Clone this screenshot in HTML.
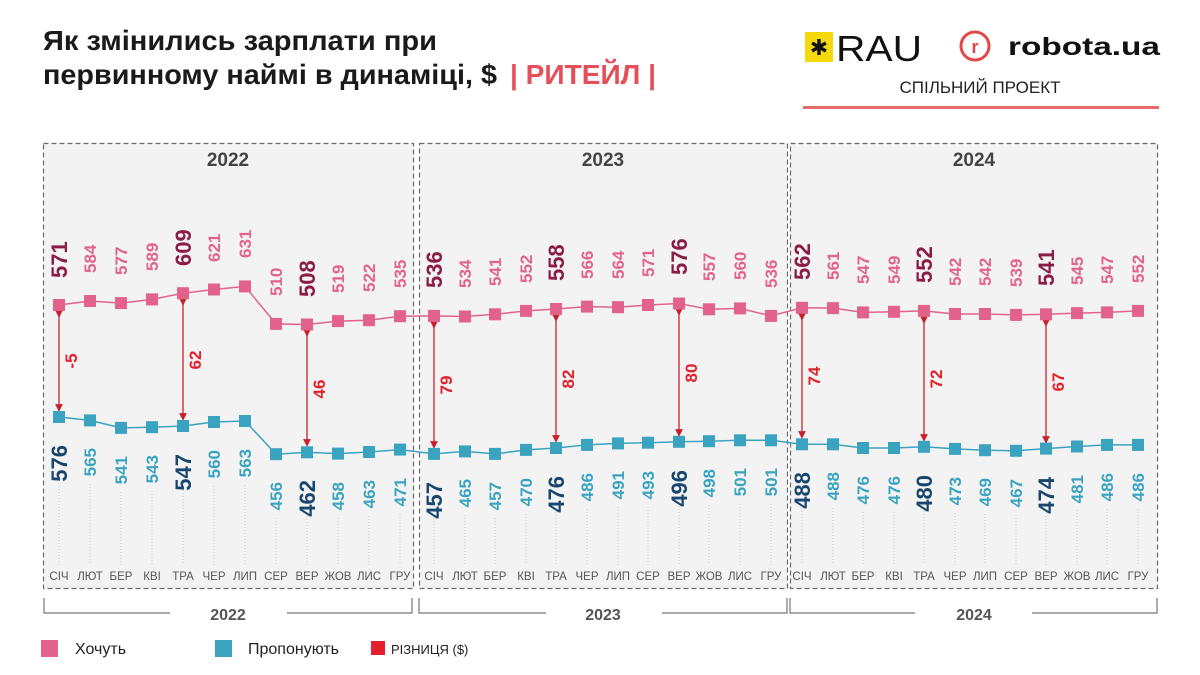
<!DOCTYPE html>
<html><head><meta charset="utf-8"><style>
body{margin:0;background:#fff;}
svg{display:block;font-family:"Liberation Sans",sans-serif;}
.w{fill:#e2628c;font-size:17px;font-weight:bold}
.wb{fill:#8a1c45;font-size:22px;font-weight:bold}
.o{fill:#3aa3c0;font-size:17px;font-weight:bold}
.ob{fill:#18466e;font-size:22px;font-weight:bold}
.m{fill:#555;font-size:11.5px;text-anchor:middle}
.d{fill:#e3202c;font-size:17px;font-weight:bold;text-anchor:middle}
.dl{stroke:#c8c8c8;stroke-width:1;stroke-dasharray:1 2}
</style></head><body>
<svg width="1200" height="675" viewBox="0 0 1200 675">
<defs>
<rect id="pw" x="-6" y="-6" width="12" height="12" fill="#e2628c"/>
<rect id="po" x="-6" y="-6" width="12" height="12" fill="#3aa3c0"/>
<marker id="ar" markerWidth="6" markerHeight="6" refX="3" refY="3" orient="auto"><path d="M0,0 L6,3 L0,6 z" fill="#c8202c"/></marker>
</defs>
<!-- header -->
<text x="43" y="50" font-size="28" font-weight="bold" fill="#1a1a1a" textLength="394" lengthAdjust="spacingAndGlyphs">Як змінились зарплати при</text>
<text x="43" y="84" font-size="28" font-weight="bold" fill="#1a1a1a" textLength="454" lengthAdjust="spacingAndGlyphs">первинному наймі в динаміці, $</text>
<text x="510" y="84" font-size="28" font-weight="bold" fill="#e3505a" textLength="146" lengthAdjust="spacingAndGlyphs">| РИТЕЙЛ |</text>
<rect x="805" y="32" width="28" height="30" fill="#f5d90a"/>
<text x="819" y="55" font-size="22" text-anchor="middle" fill="#111">✱</text>
<text x="836" y="61" font-size="36" fill="#111" textLength="86" lengthAdjust="spacingAndGlyphs">RAU</text>
<circle cx="975" cy="46" r="14" fill="none" stroke="#e24848" stroke-width="3"/>
<text x="975" y="53" font-size="18" font-weight="bold" text-anchor="middle" fill="#e24848">r</text>
<text x="1008" y="55" font-size="25" font-weight="bold" fill="#111" textLength="152" lengthAdjust="spacingAndGlyphs">robota.ua</text>
<text x="980" y="93" font-size="17" text-anchor="middle" fill="#222">СПІЛЬНИЙ ПРОЕКТ</text>
<rect x="803" y="106" width="356" height="3" fill="#e86a6a"/>
<!-- panels -->
<g fill="#f3f3f3" stroke="#6a6a6a" stroke-dasharray="5 3" stroke-width="1.2">
<rect x="43.5" y="143.5" width="370" height="445"/>
<rect x="419.5" y="143.5" width="368" height="445"/>
<rect x="790.5" y="143.5" width="367" height="445"/>
</g>
<g font-size="19" font-weight="bold" fill="#444" text-anchor="middle">
<text x="228" y="166">2022</text><text x="603" y="166">2023</text><text x="974" y="166">2024</text>
</g>
<!-- month labels -->
<g class="m">
<text x="59" y="580">СІЧ</text><text x="90" y="580">ЛЮТ</text><text x="121" y="580">БЕР</text><text x="152" y="580">КВІ</text><text x="183" y="580">ТРА</text><text x="214" y="580">ЧЕР</text><text x="245" y="580">ЛИП</text><text x="276" y="580">СЕР</text><text x="307" y="580">ВЕР</text><text x="338" y="580">ЖОВ</text><text x="369" y="580">ЛИС</text><text x="400" y="580">ГРУ</text>
<text x="434" y="580">СІЧ</text><text x="465" y="580">ЛЮТ</text><text x="495" y="580">БЕР</text><text x="526" y="580">КВІ</text><text x="556" y="580">ТРА</text><text x="587" y="580">ЧЕР</text><text x="618" y="580">ЛИП</text><text x="648" y="580">СЕР</text><text x="679" y="580">ВЕР</text><text x="709" y="580">ЖОВ</text><text x="740" y="580">ЛИС</text><text x="771" y="580">ГРУ</text>
<text x="802" y="580">СІЧ</text><text x="833" y="580">ЛЮТ</text><text x="863" y="580">БЕР</text><text x="894" y="580">КВІ</text><text x="924" y="580">ТРА</text><text x="955" y="580">ЧЕР</text><text x="985" y="580">ЛИП</text><text x="1016" y="580">СЕР</text><text x="1046" y="580">ВЕР</text><text x="1077" y="580">ЖОВ</text><text x="1107" y="580">ЛИС</text><text x="1138" y="580">ГРУ</text>
</g>
<!-- dotted guides -->
<g class="dl">
<path d="M59,480V565M90,484V565M121,492V565M152,491V565M183,490V565M214,486V565M245,485V565M276,518V565M307,516V565M338,518V565M369,516V565M400,514V565M434,518V565M465,515V565M495,518V565M526,514V565M556,512V565M587,509V565M618,507V565M648,507V565M679,506V565M709,505V565M740,504V565M771,504V565M802,508V565M833,508V565M863,512V565M894,512V565M924,511V565M955,513V565M985,514V565M1016,515V565M1046,513V565M1077,510V565M1107,509V565M1138,509V565"/>
</g>
<!-- lines -->
<polyline fill="none" stroke="#e2628c" stroke-width="1.5" points="59,305 90,301 121,303.1 152,299.4 183,293.2 214,289.5 245,286.4 276,323.9 307,324.5 338,321.1 369,320.2 400,316.2 434,315.9 465,316.5 495,314.3 526,310.9 556,309 587,306.6 618,307.2 648,305 679,303.5 709,309.3 740,308.4 771,315.9 802,307.8 833,308.1 863,312.4 894,311.8 924,310.9 955,314 985,314 1016,314.9 1046,314.3 1077,313.1 1107,312.4 1138,310.9"/>
<polyline fill="none" stroke="#3aa3c0" stroke-width="1.5" points="59,417 90,420.4 121,427.9 152,427.2 183,426 214,422 245,421 276,454.2 307,452.3 338,453.6 369,452 400,449.6 434,453.9 465,451.4 495,453.9 526,449.9 556,448 587,444.9 618,443.4 648,442.7 679,441.8 709,441.2 740,440.3 771,440.3 802,444.3 833,444.3 863,448 894,448 924,446.8 955,448.9 985,450.2 1016,450.8 1046,448.6 1077,446.5 1107,444.9 1138,444.9"/>
<!-- diff arrows -->
<g stroke="#c8202c" stroke-width="1.3" marker-start="url(#ar)" marker-end="url(#ar)">
<line x1="59" y1="314" x2="59" y2="408"/><line x1="183" y1="302" x2="183" y2="417"/><line x1="307" y1="333" x2="307" y2="443"/>
<line x1="434" y1="325" x2="434" y2="445"/><line x1="556" y1="318" x2="556" y2="439"/><line x1="679" y1="312" x2="679" y2="433"/>
<line x1="802" y1="317" x2="802" y2="435"/><line x1="924" y1="320" x2="924" y2="438"/><line x1="1046" y1="323" x2="1046" y2="440"/>
</g>
<g class="d">
<text transform="translate(77,361) rotate(-90)">-5</text>
<text transform="translate(201,360) rotate(-90)">62</text>
<text transform="translate(325,389) rotate(-90)">46</text>
<text transform="translate(452,385) rotate(-90)">79</text>
<text transform="translate(574,379) rotate(-90)">82</text>
<text transform="translate(697,373) rotate(-90)">80</text>
<text transform="translate(820,376) rotate(-90)">74</text>
<text transform="translate(942,379) rotate(-90)">72</text>
<text transform="translate(1064,382) rotate(-90)">67</text>
</g>
<!-- markers -->
<g>
<use href="#pw" x="59" y="305"/><use href="#pw" x="90" y="301"/><use href="#pw" x="121" y="303.1"/><use href="#pw" x="152" y="299.4"/><use href="#pw" x="183" y="293.2"/><use href="#pw" x="214" y="289.5"/><use href="#pw" x="245" y="286.4"/><use href="#pw" x="276" y="323.9"/><use href="#pw" x="307" y="324.5"/><use href="#pw" x="338" y="321.1"/><use href="#pw" x="369" y="320.2"/><use href="#pw" x="400" y="316.2"/>
<use href="#pw" x="434" y="315.9"/><use href="#pw" x="465" y="316.5"/><use href="#pw" x="495" y="314.3"/><use href="#pw" x="526" y="310.9"/><use href="#pw" x="556" y="309"/><use href="#pw" x="587" y="306.6"/><use href="#pw" x="618" y="307.2"/><use href="#pw" x="648" y="305"/><use href="#pw" x="679" y="303.5"/><use href="#pw" x="709" y="309.3"/><use href="#pw" x="740" y="308.4"/><use href="#pw" x="771" y="315.9"/>
<use href="#pw" x="802" y="307.8"/><use href="#pw" x="833" y="308.1"/><use href="#pw" x="863" y="312.4"/><use href="#pw" x="894" y="311.8"/><use href="#pw" x="924" y="310.9"/><use href="#pw" x="955" y="314"/><use href="#pw" x="985" y="314"/><use href="#pw" x="1016" y="314.9"/><use href="#pw" x="1046" y="314.3"/><use href="#pw" x="1077" y="313.1"/><use href="#pw" x="1107" y="312.4"/><use href="#pw" x="1138" y="310.9"/>
<use href="#po" x="59" y="417"/><use href="#po" x="90" y="420.4"/><use href="#po" x="121" y="427.9"/><use href="#po" x="152" y="427.2"/><use href="#po" x="183" y="426"/><use href="#po" x="214" y="422"/><use href="#po" x="245" y="421"/><use href="#po" x="276" y="454.2"/><use href="#po" x="307" y="452.3"/><use href="#po" x="338" y="453.6"/><use href="#po" x="369" y="452"/><use href="#po" x="400" y="449.6"/>
<use href="#po" x="434" y="453.9"/><use href="#po" x="465" y="451.4"/><use href="#po" x="495" y="453.9"/><use href="#po" x="526" y="449.9"/><use href="#po" x="556" y="448"/><use href="#po" x="587" y="444.9"/><use href="#po" x="618" y="443.4"/><use href="#po" x="648" y="442.7"/><use href="#po" x="679" y="441.8"/><use href="#po" x="709" y="441.2"/><use href="#po" x="740" y="440.3"/><use href="#po" x="771" y="440.3"/>
<use href="#po" x="802" y="444.3"/><use href="#po" x="833" y="444.3"/><use href="#po" x="863" y="448"/><use href="#po" x="894" y="448"/><use href="#po" x="924" y="446.8"/><use href="#po" x="955" y="448.9"/><use href="#po" x="985" y="450.2"/><use href="#po" x="1016" y="450.8"/><use href="#po" x="1046" y="448.6"/><use href="#po" x="1077" y="446.5"/><use href="#po" x="1107" y="444.9"/><use href="#po" x="1138" y="444.9"/>
</g>
<!-- want labels -->
<g text-anchor="start">
<text class="wb" transform="translate(67,278) rotate(-90)">571</text>
<text class="w" transform="translate(96,273) rotate(-90)">584</text>
<text class="w" transform="translate(127,275) rotate(-90)">577</text>
<text class="w" transform="translate(158,271) rotate(-90)">589</text>
<text class="wb" transform="translate(191,266) rotate(-90)">609</text>
<text class="w" transform="translate(220,262) rotate(-90)">621</text>
<text class="w" transform="translate(251,258) rotate(-90)">631</text>
<text class="w" transform="translate(282,296) rotate(-90)">510</text>
<text class="wb" transform="translate(315,297) rotate(-90)">508</text>
<text class="w" transform="translate(344,293) rotate(-90)">519</text>
<text class="w" transform="translate(375,292) rotate(-90)">522</text>
<text class="w" transform="translate(406,288) rotate(-90)">535</text>
<text class="wb" transform="translate(442,288) rotate(-90)">536</text>
<text class="w" transform="translate(471,288) rotate(-90)">534</text>
<text class="w" transform="translate(501,286) rotate(-90)">541</text>
<text class="w" transform="translate(532,283) rotate(-90)">552</text>
<text class="wb" transform="translate(564,281) rotate(-90)">558</text>
<text class="w" transform="translate(593,279) rotate(-90)">566</text>
<text class="w" transform="translate(624,279) rotate(-90)">564</text>
<text class="w" transform="translate(654,277) rotate(-90)">571</text>
<text class="wb" transform="translate(687,275) rotate(-90)">576</text>
<text class="w" transform="translate(715,281) rotate(-90)">557</text>
<text class="w" transform="translate(746,280) rotate(-90)">560</text>
<text class="w" transform="translate(777,288) rotate(-90)">536</text>
<text class="wb" transform="translate(810,280) rotate(-90)">562</text>
<text class="w" transform="translate(839,280) rotate(-90)">561</text>
<text class="w" transform="translate(869,284) rotate(-90)">547</text>
<text class="w" transform="translate(900,284) rotate(-90)">549</text>
<text class="wb" transform="translate(932,283) rotate(-90)">552</text>
<text class="w" transform="translate(961,286) rotate(-90)">542</text>
<text class="w" transform="translate(991,286) rotate(-90)">542</text>
<text class="w" transform="translate(1022,287) rotate(-90)">539</text>
<text class="wb" transform="translate(1054,286) rotate(-90)">541</text>
<text class="w" transform="translate(1083,285) rotate(-90)">545</text>
<text class="w" transform="translate(1113,284) rotate(-90)">547</text>
<text class="w" transform="translate(1144,283) rotate(-90)">552</text>
</g>
<!-- offer labels -->
<g text-anchor="end">
<text class="ob" transform="translate(67,445) rotate(-90)">576</text>
<text class="o" transform="translate(96,448) rotate(-90)">565</text>
<text class="o" transform="translate(127,456) rotate(-90)">541</text>
<text class="o" transform="translate(158,455) rotate(-90)">543</text>
<text class="ob" transform="translate(191,454) rotate(-90)">547</text>
<text class="o" transform="translate(220,450) rotate(-90)">560</text>
<text class="o" transform="translate(251,449) rotate(-90)">563</text>
<text class="o" transform="translate(282,482) rotate(-90)">456</text>
<text class="ob" transform="translate(315,480) rotate(-90)">462</text>
<text class="o" transform="translate(344,482) rotate(-90)">458</text>
<text class="o" transform="translate(375,480) rotate(-90)">463</text>
<text class="o" transform="translate(406,478) rotate(-90)">471</text>
<text class="ob" transform="translate(442,482) rotate(-90)">457</text>
<text class="o" transform="translate(471,479) rotate(-90)">465</text>
<text class="o" transform="translate(501,482) rotate(-90)">457</text>
<text class="o" transform="translate(532,478) rotate(-90)">470</text>
<text class="ob" transform="translate(564,476) rotate(-90)">476</text>
<text class="o" transform="translate(593,473) rotate(-90)">486</text>
<text class="o" transform="translate(624,471) rotate(-90)">491</text>
<text class="o" transform="translate(654,471) rotate(-90)">493</text>
<text class="ob" transform="translate(687,470) rotate(-90)">496</text>
<text class="o" transform="translate(715,469) rotate(-90)">498</text>
<text class="o" transform="translate(746,468) rotate(-90)">501</text>
<text class="o" transform="translate(777,468) rotate(-90)">501</text>
<text class="ob" transform="translate(810,472) rotate(-90)">488</text>
<text class="o" transform="translate(839,472) rotate(-90)">488</text>
<text class="o" transform="translate(869,476) rotate(-90)">476</text>
<text class="o" transform="translate(900,476) rotate(-90)">476</text>
<text class="ob" transform="translate(932,475) rotate(-90)">480</text>
<text class="o" transform="translate(961,477) rotate(-90)">473</text>
<text class="o" transform="translate(991,478) rotate(-90)">469</text>
<text class="o" transform="translate(1022,479) rotate(-90)">467</text>
<text class="ob" transform="translate(1054,477) rotate(-90)">474</text>
<text class="o" transform="translate(1083,475) rotate(-90)">481</text>
<text class="o" transform="translate(1113,473) rotate(-90)">486</text>
<text class="o" transform="translate(1144,473) rotate(-90)">486</text>
</g>
<!-- bottom brackets -->
<g fill="none" stroke="#777" stroke-width="1.2">
<path d="M44,598V613H170M287,613H412V598"/>
<path d="M419,598V613H546M662,613H787V598"/>
<path d="M790,598V613H915M1032,613H1157V598"/>
</g>
<g font-size="16" font-weight="bold" fill="#555" text-anchor="middle">
<text x="228" y="620">2022</text><text x="603" y="620">2023</text><text x="974" y="620">2024</text>
</g>
<!-- legend -->
<rect x="41" y="640" width="17" height="17" fill="#e2628c"/>
<text x="75" y="654" font-size="16" fill="#222">Хочуть</text>
<rect x="215" y="640" width="17" height="17" fill="#3aa3c0"/>
<text x="248" y="654" font-size="16" fill="#222">Пропонують</text>
<rect x="371" y="641" width="14" height="14" fill="#e3202c"/>
<text x="391" y="654" font-size="13" fill="#222">РІЗНИЦЯ ($)</text>
</svg>
</body></html>
